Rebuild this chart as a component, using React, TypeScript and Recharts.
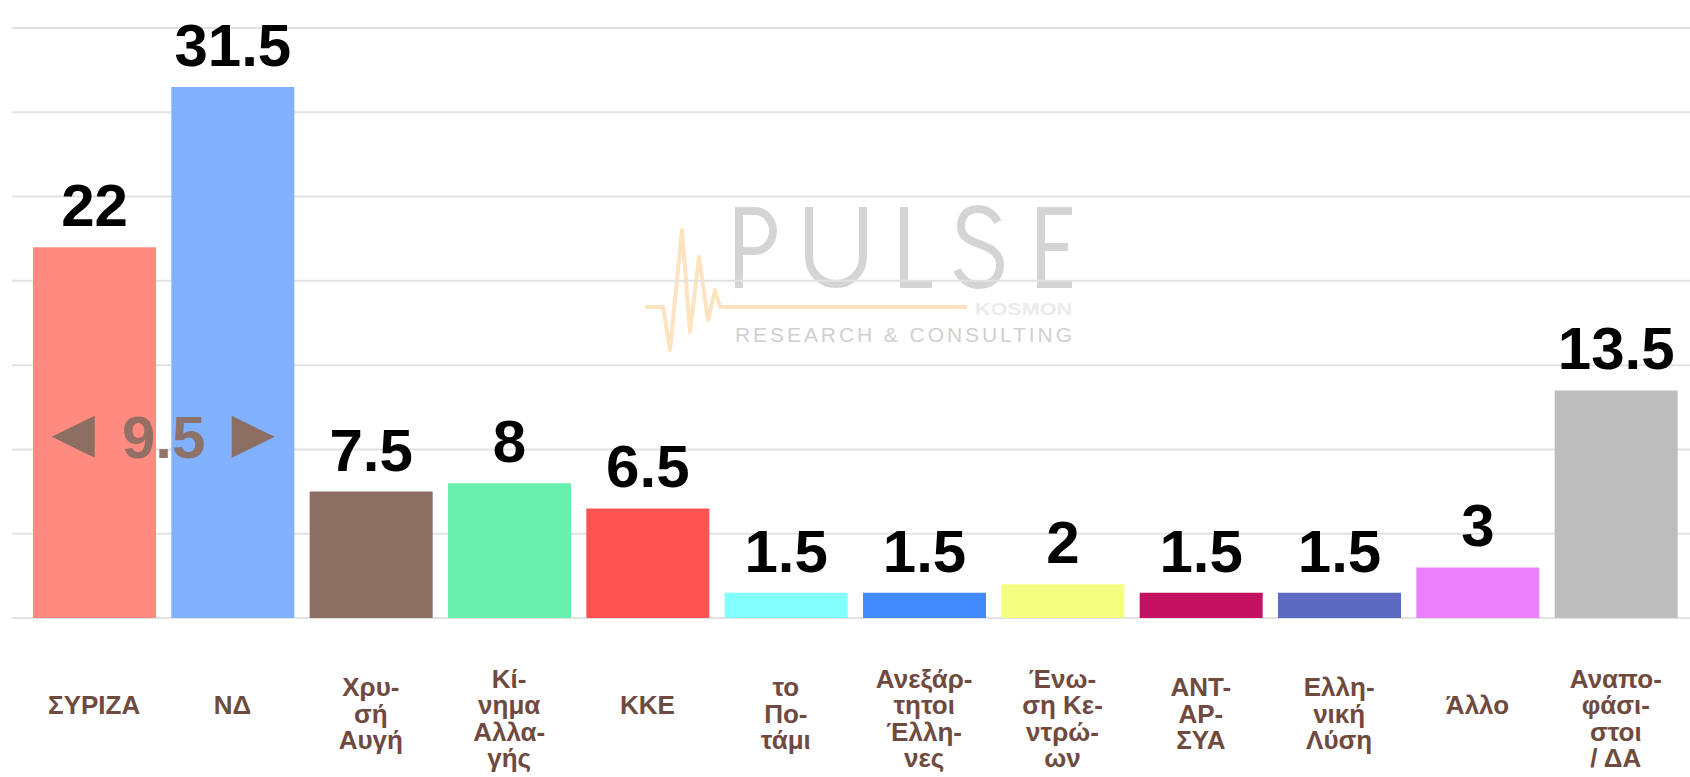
import React from "react";
import { BarChart, Bar, XAxis, YAxis, CartesianGrid, Cell, LabelList } from "recharts";

const categories: string[] = [
  "ΣΥΡΙΖΑ",
  "ΝΔ",
  "Χρυ-\nσή\nΑυγή",
  "Κί-\nνημα\nΑλλα-\nγής",
  "ΚΚΕ",
  "το\nΠο-\nτάμι",
  "Ανεξάρ-\nτητοι\nΈλλη-\nνες",
  "Ένω-\nση Κε-\nντρώ-\nων",
  "ΑΝΤ-\nΑΡ-\nΣΥΑ",
  "Ελλη-\nνική\nΛύση",
  "Άλλο",
  "Αναπο-\nφάσι-\nστοι\n/ ΔΑ",
];

const values: number[] = [22, 31.5, 7.5, 8, 6.5, 1.5, 1.5, 2, 1.5, 1.5, 3, 13.5];

const colors: string[] = [
  "#FF8A80", "#82B1FF", "#8D6E63", "#69F0AE", "#FF5252", "#84FFFF",
  "#448AFF", "#F4FF81", "#C51162", "#5C6BC0", "#EA80FC", "#BDBDBD",
];

const yTicks: number[] = [0, 5, 10, 15, 20, 25, 30, 35];

const data = categories.map((name, i) => ({ name, value: values[i] }));

const FONT = "'Liberation Sans', Arial, sans-serif";

const CategoryTick = (props: any) => {
  const { x, y, payload } = props;
  const lines: string[] = String(payload.value).split("\n");
  const n = lines.length;
  const first = y + 96 - (n - 1) * 8.8;
  return (
    <text
      x={x}
      y={first}
      textAnchor="middle"
      fontFamily={FONT}
      fontWeight="bold"
      fontSize={26}
      fill="#6f4a3e"
    >
      {lines.map((l, i) => (
        <tspan key={i} x={x} y={first + i * 26.5}>
          {l}
        </tspan>
      ))}
    </text>
  );
};

const ValueLabel = (props: any) => {
  const { x, y, width, value } = props;
  return (
    <text
      x={x + width / 2}
      y={y - 21}
      textAnchor="middle"
      fontFamily={FONT}
      fontWeight="bold"
      fontSize={60}
      fill="#000"
    >
      {value}
    </text>
  );
};

const DiffLabel = (props: any) => {
  const { x, y, width, height, index } = props;
  if (index !== 0) return null;
  const diff = values[1] - values[0];
  const perUnit = height / values[0];
  const base = y + height;
  const cy = base - diff * perUnit;
  const cx = x + width + 7.7;
  const c = "#8d6e63";
  const mid = cy - 21;
  return (
    <g>
      <polygon
        points={`${cx - 112},${mid} ${cx - 69},${mid - 21} ${cx - 69},${mid + 21}`}
        fill={c}
      />
      <polygon
        points={`${cx + 111},${mid} ${cx + 68},${mid - 21} ${cx + 68},${mid + 21}`}
        fill={c}
      />
      <text
        x={cx}
        y={cy}
        textAnchor="middle"
        fontFamily={FONT}
        fontWeight="bold"
        fontSize={60}
        fill={c}
        fillOpacity={0.95}
      >
        {diff}
      </text>
    </g>
  );
};

const Watermark = () => (
  <svg
    width={1690}
    height={777}
    style={{ position: "absolute", left: 0, top: 0, pointerEvents: "none" }}
  >
    <g fill="none" stroke="#d4d4d4" strokeWidth={8}>
      <path d="M739,207 V288 M735,211 H755 A18,20 0 0 1 755,251 H739" />
      <path d="M809,207 V257 A27,27 0 0 0 863,257 V207" />
      <path d="M904,207 V284 H932" />
      <path d="M998,222 C992,212 985,209 978,209 C966,209 961,217 961,227 C961,248 1000,240 1000,265 C1000,278 991,285 979,285 C970,285 962,280 957,270" />
      <path d="M1041,207 V288 M1037,211 H1072 M1041,247 H1068 M1037,284 H1072" />
    </g>
    <polyline
      points="645,307 663,307 670,350 682,230 690,332 699,257 708,320 715,290 720,307 967,307"
      fill="none"
      stroke="#fde3c0"
      strokeWidth={4}
      strokeLinejoin="round"
    />
    <text
      x={975}
      y={315}
      fontFamily={FONT}
      fontWeight="bold"
      fontSize={17}
      fill="#ebebeb"
      textLength={97}
      lengthAdjust="spacingAndGlyphs"
    >
      KOSMON
    </text>
    <text
      x={735}
      y={342}
      fontFamily={FONT}
      fontSize={21}
      fill="#cfcfcf"
      textLength={337}
      lengthAdjust="spacing"
    >
      RESEARCH &amp; CONSULTING
    </text>
  </svg>
);

export default function App() {
  return (
    <div style={{ position: "absolute", left: 0, top: 0, width: 1690, height: 777, background: "#fff" }}>
      <Watermark />
      <div style={{ position: "absolute", left: 0, top: 0 }}>
        <BarChart
          width={1690}
          height={777}
          data={data}
          margin={{ top: 28, right: 0, bottom: 0, left: 12 }}
        >
          <CartesianGrid vertical={false} stroke="#e2e2e2" strokeWidth={2} />
          <XAxis
            dataKey="name"
            axisLine={false}
            tickLine={false}
            tickSize={0}
            tickMargin={0}
            height={159}
            interval={0}
            padding={{ left: 13, right: 5 }}
            tick={<CategoryTick />}
          />
          <YAxis hide domain={[0, 35]} ticks={yTicks} />
          <Bar dataKey="value" barSize={123} isAnimationActive={false}>
            {data.map((d, i) => (
              <Cell key={i} fill={colors[i]} />
            ))}
            <LabelList dataKey="value" content={<ValueLabel />} />
            <LabelList dataKey="value" content={<DiffLabel />} />
          </Bar>
        </BarChart>
      </div>
    </div>
  );
}
